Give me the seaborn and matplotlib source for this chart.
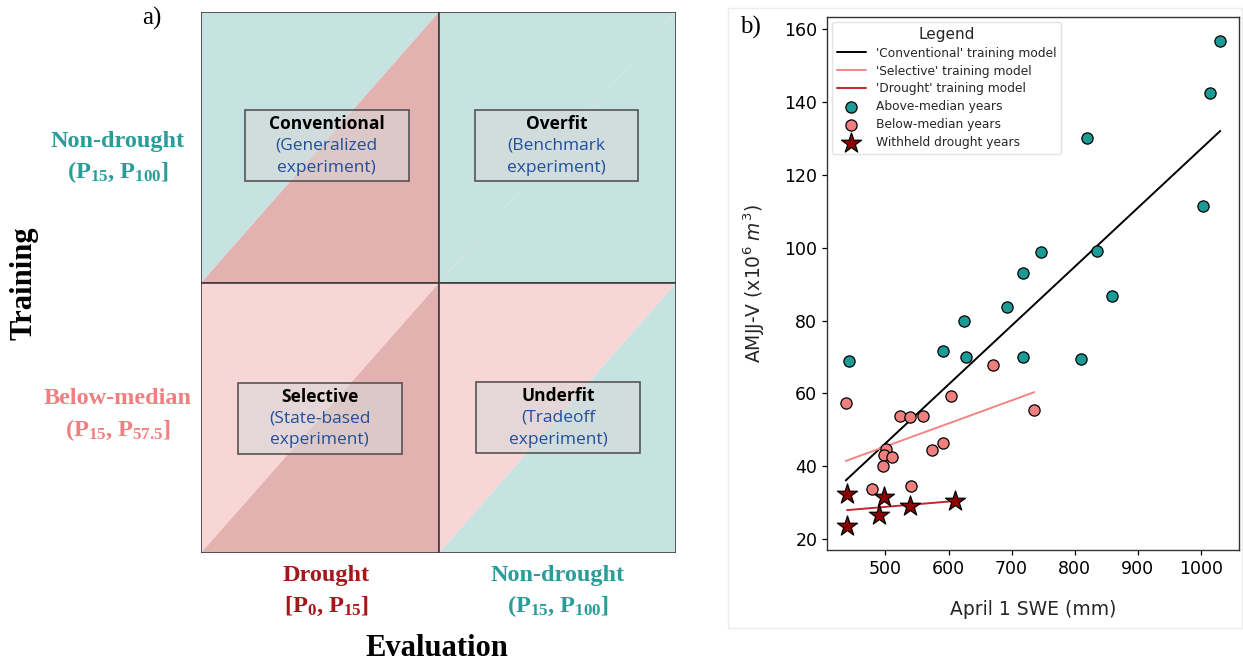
import numpy as np
import pandas as pd
import matplotlib
matplotlib.use("Agg")
import matplotlib.pyplot as plt
from matplotlib.patches import Rectangle, Polygon
import seaborn as sns

# ---------------- data ----------------
# Panel a: training / evaluation matrix
training_rows = ["Non-drought", "Below-median"]
training_ranges = ["(P$_{15}$, P$_{100}$]", "(P$_{15}$, P$_{57.5}$]"]
evaluation_cols = ["Drought", "Non-drought"]
evaluation_ranges = ["[P$_{0}$, P$_{15}$]", "(P$_{15}$, P$_{100}$]"]
cell_titles = [["Conventional", "Overfit"], ["Selective", "Underfit"]]
cell_subtitles = [["(Generalized\nexperiment)", "(Benchmark\nexperiment)"],
                  ["(State-based\nexperiment)", "(Tradeoff\nexperiment)"]]

# Panel b: April 1 SWE (mm) vs AMJJ volume (x10^6 m^3)
above_swe = [1031, 1015, 820, 1003, 747, 836, 718, 859, 693, 625, 592, 627, 718, 810, 442]
above_vol = [156.6, 142.3, 130.0, 111.4, 98.7, 99.0, 93.0, 86.7, 83.6, 80.0, 71.6, 70.0, 69.9, 69.4, 68.8]
below_swe = [437, 670, 604, 736, 523, 539, 559, 592, 574, 501, 497, 511, 496, 478, 541]
below_vol = [57.4, 67.8, 59.4, 55.4, 53.9, 53.4, 53.7, 46.5, 44.5, 44.8, 43.2, 42.6, 40.2, 33.7, 34.5]
drought_swe = [439, 497, 490, 539, 611, 439]
drought_vol = [32.4, 31.6, 26.6, 29.1, 30.4, 23.7]

# Linear training models: (slope, intercept)
conventional_fit = (0.1614, -34.4)
selective_fit = (0.0631, 13.9)
drought_fit = (0.01457, 21.6)

# ---------------- style ----------------
sns.set_theme(style="ticks")
plt.rcParams["font.family"] = ["DejaVu Sans"]
plt.rcParams["mathtext.default"] = "regular"

TEAL_BG = "#c6e3e2"
PINK_DARK_BG = "#e3b1b0"
PINK_LIGHT_BG = "#f7d6d5"
TEAL_TXT = "#2a9d98"
PINK_TXT = "#f08080"
RED_TXT = "#a3161a"
BLUE_TXT = "#1f4f9e"

W, H = 1243, 663
fig = plt.figure(figsize=(W / 100, H / 100), dpi=100)


def fx(px):
    return px / W


def fy(py):
    return 1 - py / H


# ---------------- panel a ----------------
axa = fig.add_axes([fx(201), fy(553), fx(676) - fx(201), fy(12) - fy(553)])
axa.set_xlim(0, 2)
axa.set_ylim(0, 2)
axa.axis("off")

train_colors = [TEAL_BG, PINK_LIGHT_BG]   # top row, bottom row
eval_colors = [PINK_DARK_BG, TEAL_BG]     # left col, right col
for r in range(2):
    y0 = 1 - r  # row 0 at top
    for c in range(2):
        x0 = c
        axa.add_patch(Polygon([(x0, y0), (x0, y0 + 1), (x0 + 1, y0 + 1)],
                              closed=True, facecolor=train_colors[r], edgecolor="none"))
        axa.add_patch(Polygon([(x0, y0), (x0 + 1, y0), (x0 + 1, y0 + 1)],
                              closed=True, facecolor=eval_colors[c], edgecolor="none"))
        axa.add_patch(Rectangle((x0, y0), 1, 1, facecolor="none",
                                edgecolor="#3d3d3d", lw=1.2))

box_centers = [[(0.53, 1.505), (1.497, 1.505)], [(0.50, 0.497), (1.503, 0.50)]]
bw, bh = 0.69, 0.262
for r in range(2):
    for c in range(2):
        cx, cy = box_centers[r][c]
        axa.add_patch(Rectangle((cx - bw / 2, cy - bh / 2), bw, bh,
                                facecolor="#d9d9d9", alpha=0.6, edgecolor="none"))
        axa.add_patch(Rectangle((cx - bw / 2, cy - bh / 2), bw, bh,
                                facecolor="none", edgecolor="#4a4a4a", lw=1.1))
        axa.text(cx, cy + 0.081, cell_titles[r][c], ha="center", va="center",
                 fontsize=12.5, fontweight="bold", color="black", family="Open Sans")
        sub = cell_subtitles[r][c].split("\n")
        axa.text(cx, cy, sub[0], ha="center", va="center", fontsize=12.5,
                 color=BLUE_TXT, family="Open Sans")
        axa.text(cx, cy - 0.081, sub[1], ha="center", va="center", fontsize=12.5,
                 color=BLUE_TXT, family="Open Sans")

serif = dict(family="Liberation Serif", fontweight="bold")
row_colors = [TEAL_TXT, PINK_TXT]
row_y = [(141, 172), (398, 430)]
for i in range(2):
    fig.text(fx(118), fy(row_y[i][0]), training_rows[i], ha="center", va="center",
             fontsize=17.5, color=row_colors[i], **serif)
    fig.text(fx(118), fy(row_y[i][1]), training_ranges[i], ha="center", va="center",
             fontsize=17.5, color=row_colors[i], **serif)

col_colors = [RED_TXT, TEAL_TXT]
col_x = [326.5, 558]
for j in range(2):
    fig.text(fx(col_x[j]), fy(576), evaluation_cols[j], ha="center", va="center",
             fontsize=17.5, color=col_colors[j], **serif)
    fig.text(fx(col_x[j]), fy(606), evaluation_ranges[j], ha="center", va="center",
             fontsize=17.5, color=col_colors[j], **serif)

fig.text(fx(437), fy(648), "Evaluation", ha="center", va="center",
         fontsize=22, color="black", **serif)
fig.text(fx(24), fy(283), "Training", ha="center", va="center", rotation=90,
         fontsize=22, color="black", **serif)
fig.text(fx(152), fy(18), "a)", ha="center", va="center", fontsize=18,
         family="Liberation Serif", color="black")

# ---------------- panel b ----------------
fig.add_artist(Rectangle((fx(728), fy(628)), fx(1243) - fx(728) - 0.001, fy(8) - fy(628),
                         transform=fig.transFigure, facecolor="none",
                         edgecolor="#ececec", lw=1.0))

axb = fig.add_axes([fx(827), fy(550), fx(1239) - fx(827), fy(17) - fy(550)])

conv_x = np.array([min(below_swe + above_swe), max(below_swe + above_swe)])
sel_x = np.array([min(below_swe), max(below_swe)])
dr_x = np.array([min(drought_swe), max(drought_swe)])

sns.lineplot(x=conv_x, y=conventional_fit[0] * conv_x + conventional_fit[1], ax=axb,
             color="black", lw=1.4, label="'Conventional' training model")
sns.lineplot(x=sel_x, y=selective_fit[0] * sel_x + selective_fit[1], ax=axb,
             color="#f48585", lw=1.4, label="'Selective' training model")
sns.lineplot(x=dr_x, y=drought_fit[0] * dr_x + drought_fit[1], ax=axb,
             color="#c1272d", lw=1.4, label="'Drought' training model")

sns.scatterplot(x=above_swe, y=above_vol, ax=axb, color="#1b9a96", edgecolor="black",
                linewidth=0.9, s=65, label="Above-median years", zorder=3)
sns.scatterplot(x=below_swe, y=below_vol, ax=axb, color="#f08080", edgecolor="black",
                linewidth=0.9, s=65, label="Below-median years", zorder=3)
sns.scatterplot(x=drought_swe, y=drought_vol, ax=axb, color="#8b0000", edgecolor="black",
                linewidth=0.9, s=230, marker="*", label="Withheld drought years", zorder=4)

axb.set_xticks([500, 600, 700, 800, 900, 1000])
axb.set_yticks([20, 40, 60, 80, 100, 120, 140, 160])
axb.tick_params(labelsize=12.5, colors="black", length=3.5, width=0.9)
for sp in axb.spines.values():
    sp.set_color("#333333")
    sp.set_linewidth(1.0)
axb.set_xlabel("April 1 SWE (mm)", fontsize=13.5, labelpad=16)
axb.set_ylabel("AMJJ-V (x10$^6$ $\\mathit{m}^3$)", fontsize=13.5, labelpad=12)

handles, labels = axb.get_legend_handles_labels()
leg = axb.legend(handles, labels, title="Legend", loc="upper left", fontsize=8.8,
                 title_fontsize=11, frameon=True, borderaxespad=0.4,
                 labelspacing=0.4, handlelength=2.4)
leg.get_frame().set_edgecolor("#dddddd")

fig.text(fx(750), fy(27), "b)", ha="center", va="center", fontsize=18,
         family="Liberation Serif", color="black")

fig.savefig("out.png", dpi=100)
